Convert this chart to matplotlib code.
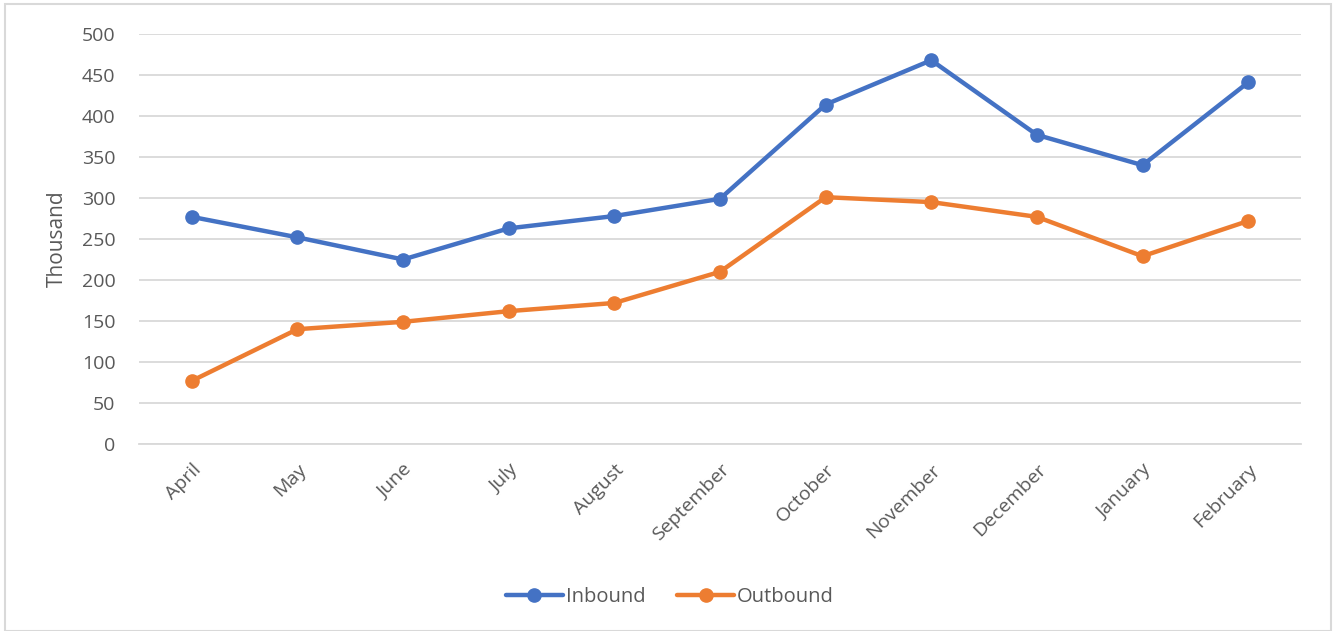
import numpy as np
import matplotlib.pyplot as plt
from matplotlib.patches import Rectangle

plt.rc('font', family=['Open Sans', 'DejaVu Sans'])

#%% data
months = ['April', 'May', 'June', 'July', 'August', 'September',
          'October', 'November', 'December', 'January', 'February']
inbound = [277, 252, 225, 263, 278, 299, 414, 468, 377, 340, 441]
outbound = [77, 140, 149, 162, 172, 210, 301, 295, 277, 229, 272]

c_in = '#4472C4'
c_out = '#ED7D31'
txt = '#595959'

#%% figure
dpi = 100
W, H = 1337, 631
fig = plt.figure(figsize=(W/dpi, H/dpi), dpi=dpi)
ax = fig.add_axes([139/W, 1 - 444/H, (1301-139)/W, (444-34)/H])

x = np.arange(len(months))
ax.plot(x, inbound, color=c_in, lw=3.2, marker='o', ms=9.5, label='Inbound',
        solid_capstyle='round', zorder=3)
ax.plot(x, outbound, color=c_out, lw=3.2, marker='o', ms=9.5, label='Outbound',
        solid_capstyle='round', zorder=3)

ax.set_xlim(-0.5, len(months) - 0.5)
ax.set_ylim(0, 500)
ax.set_yticks(np.arange(0, 501, 50))
ax.grid(axis='y', color='#D9D9D9', lw=1.3)
ax.set_axisbelow(True)
for s in ['top', 'right', 'left']:
    ax.spines[s].set_visible(False)
ax.spines['bottom'].set_color('#D9D9D9')
ax.spines['bottom'].set_linewidth(1.3)
ax.tick_params(axis='both', length=0, colors=txt, labelsize=14)
ax.tick_params(axis='y', pad=17)
ax.set_xticks(x)
ax.set_xticklabels(months, rotation=45, ha='right', rotation_mode='anchor')
ax.tick_params(axis='x', pad=12)
ax.set_ylabel('Thousand', color=txt, fontsize=15, labelpad=10)

leg = ax.legend(loc='center', bbox_to_anchor=(670/W, 1 - 597/H),
                bbox_transform=fig.transFigure, ncol=2, frameon=False,
                fontsize=14.5, handlelength=2.8, handletextpad=0.15,
                columnspacing=1.6)
for t in leg.get_texts():
    t.set_color(txt)

# outer chart border
fig.patches.append(Rectangle((5/W, 0), (1331-5)/W, 1 - 4/H, transform=fig.transFigure,
                             fill=False, edgecolor='#D9D9D9', lw=1.5))

plt.savefig('out.png', dpi=dpi)
